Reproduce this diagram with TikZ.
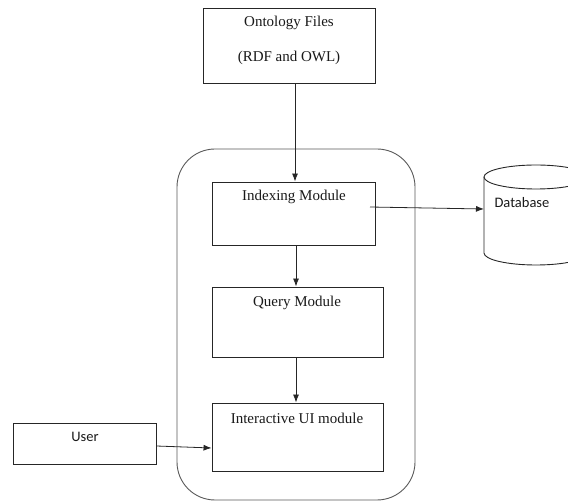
\documentclass[tikz,border=0pt]{standalone}
\usepackage{fontspec}
\setmainfont{Liberation Serif}
\newfontfamily\labelsans{Carlito}
\usetikzlibrary{arrows.meta}
\begin{document}
\begin{tikzpicture}[x=1pt,y=-1pt,
  box/.style={draw=black!85, line width=0.9pt},
  link/.style={draw=black!85, line width=0.8pt, -{Latex[length=8pt,width=6pt]}},
  ttl/.style={font=\fontsize{15}{18}\selectfont, text=black!90},
  sans/.style={font=\labelsans\fontsize{14.5}{17}\selectfont, text=black!90}]
\useasboundingbox (0,0) rectangle (568,502);
\clip (0,0) rectangle (568,502);

% system boundary
\draw[draw=black!65, line width=0.9pt, rounded corners=38pt] (177,149) rectangle (415,500);

% boxes
\node[box, minimum width=172pt, minimum height=75pt, inner sep=0pt] (onto) at (289,45.5) {};
\node[ttl] at (289,23) {Ontology Files};
\node[ttl] at (289,58) {(RDF and OWL)};

\node[box, minimum width=163pt, minimum height=63pt, inner sep=0pt] (idx) at (293.5,213.5) {};
\node[ttl] at (294,197) {Indexing Module};

\node[box, minimum width=171pt, minimum height=70pt, inner sep=0pt] (qry) at (297.5,322) {};
\node[ttl] at (297,303) {Query Module};

\node[box, minimum width=171pt, minimum height=68pt, inner sep=0pt] (ui) at (297.5,437) {};
\node[ttl] at (297,418) {Interactive UI module};

\node[box, minimum width=143pt, minimum height=41pt, inner sep=0pt] (user) at (84.5,443.5) {};
\node[sans] at (85,437) {User};

% database cylinder
\coordinate (db) at (484,209);
\draw[box] (484,177) -- (484,253)
  arc[start angle=180, end angle=360, x radius=52pt, y radius=12pt]
  -- (588,177);
\draw[box] (536,177) ellipse[x radius=52pt, y radius=12pt];
\node[sans, anchor=west] at (491,203) {Database};

% connectors
\coordinate (idxout) at (370,207);
\draw[link] (onto.south -| 295,0) -- (idx.north -| 295,0);
\draw[link] (idx.south -| 296,0) -- (qry.north -| 296,0);
\draw[link] (qry.south -| 296,0) -- (ui.north -| 296,0);
\draw[link] (idxout) -- (db);
\draw[link] (user.east |- 0,446) -- (ui.west |- 0,448);
\end{tikzpicture}
\end{document}
